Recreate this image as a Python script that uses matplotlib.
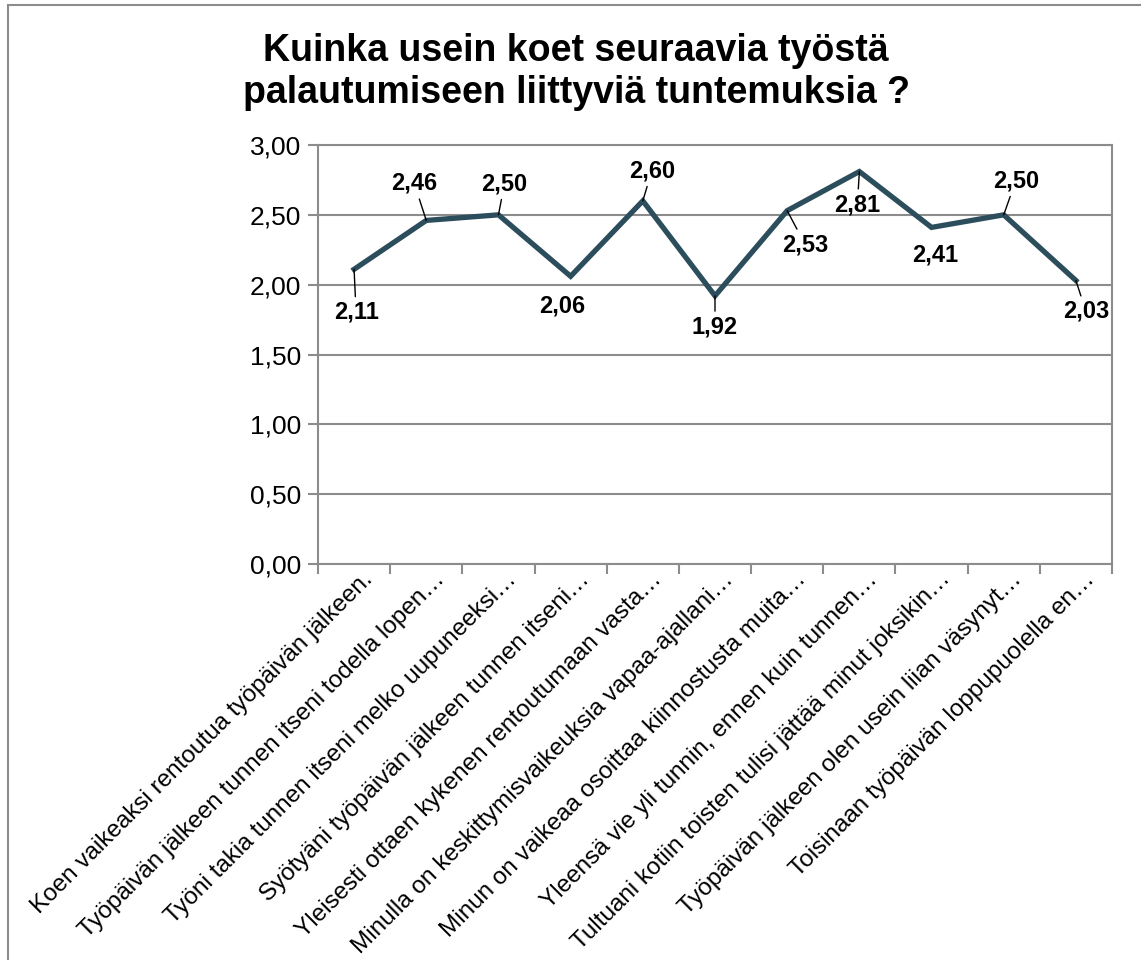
import matplotlib.pyplot as plt
from matplotlib.ticker import FuncFormatter, FixedLocator
from matplotlib.patches import Rectangle

plt.rcParams['font.family'] = ['Liberation Sans', 'DejaVu Sans']

title = "Kuinka usein koet seuraavia työstä\npalautumiseen liittyviä tuntemuksia ?"

categories = [
    "Koen vaikeaksi rentoutua työpäivän jälkeen.",
    "Työpäivän jälkeen tunnen itseni todella lopen…",
    "Työni takia tunnen itseni melko uupuneeksi…",
    "Syötyäni työpäivän jälkeen tunnen itseni…",
    "Yleisesti ottaen kykenen rentoutumaan vasta…",
    "Minulla on keskittymisvaikeuksia vapaa-ajallani…",
    "Minun on vaikeaa osoittaa kiinnostusta muita…",
    "Yleensä vie yli tunnin, ennen kuin tunnen…",
    "Tultuani kotiin toisten tulisi jättää minut joksikin…",
    "Työpäivän jälkeen olen usein liian väsynyt…",
    "Toisinaan työpäivän loppupuolella en…",
]
values = [2.11, 2.46, 2.50, 2.06, 2.60, 1.92, 2.53, 2.81, 2.41, 2.50, 2.03]

# label offsets in pixels (dx, dy) from the point, and whether a leader line is drawn
label_offsets = [(2, -43), (-12, 37), (6, 31), (-8, -30), (9, 30), (0, -31),
                 (18, -34), (-2, -33), (4, -28), (12, 34), (10, -31)]
leaders = [True, True, True, False, True, True, True, True, False, True, True]

line_color = '#2C4D5C'
grid_color = '#8C8C8C'

fig = plt.figure(figsize=(11.41, 9.6), dpi=100)
fig.patches.append(Rectangle((8 / 1141, -0.1), 1.2, 1.1 - 5 / 960, transform=fig.transFigure,
                             fill=False, edgecolor='#8C8C8C', linewidth=1.5))

ax = fig.add_axes([318 / 1141, 1 - 564 / 960, (1112 - 318) / 1141, (564 - 145) / 960])

x = list(range(len(values)))
ax.plot(x, values, color=line_color, linewidth=3.8, solid_joinstyle='miter', zorder=3)

for i, v in enumerate(values):
    dx, dy = label_offsets[i]
    arrow = dict(arrowstyle='-', color='black', lw=1, shrinkA=1, shrinkB=0) if leaders[i] else None
    ax.annotate(f"{v:.2f}".replace('.', ','), (i, v), xytext=(dx, dy),
                textcoords='offset pixels', ha='center', va='center',
                fontsize=17, fontweight='bold', zorder=4, arrowprops=arrow)

ax.set_xlim(-0.5, len(values) - 0.5)
ax.set_ylim(0, 3)
ax.yaxis.set_major_locator(FixedLocator([0, 0.5, 1, 1.5, 2, 2.5, 3]))
ax.yaxis.set_major_formatter(FuncFormatter(lambda y, p: f"{y:.2f}".replace('.', ',')))
ax.grid(axis='y', color=grid_color, linewidth=1.5)
ax.set_axisbelow(True)

ax.set_xticks([i - 0.5 for i in range(len(values) + 1)])
ax.set_xticklabels([])
ax.tick_params(axis='x', which='major', length=7, width=1.5, color=grid_color)
ax.tick_params(axis='y', length=7, width=1.5, color=grid_color, labelsize=19, pad=5)

for i, cat in enumerate(categories):
    ax.annotate(cat, xy=(i, 0), xycoords=('data', 'axes fraction'), xytext=(15, -12),
                textcoords='offset pixels', rotation=45, rotation_mode='anchor',
                ha='right', va='center', fontsize=17.5, annotation_clip=False)

for s in ax.spines.values():
    s.set_color(grid_color)
    s.set_linewidth(1.5)

fig.text(0.505, 0.925, title, ha='center', va='center', fontsize=27, fontweight='bold',
         linespacing=1.2)

fig.savefig('out.png', dpi=100)
